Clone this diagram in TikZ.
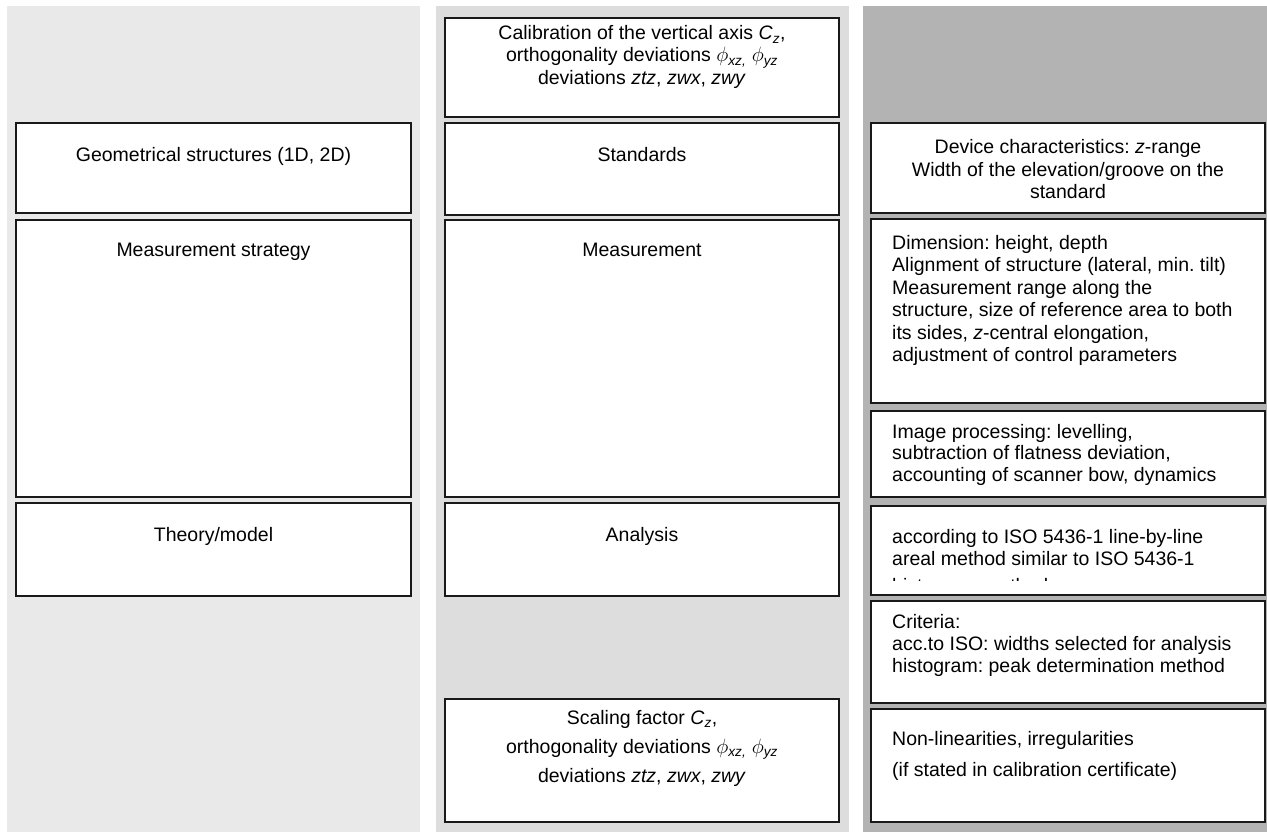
\documentclass[tikz,border=0pt]{standalone}
\usepackage{fontspec}
\setmainfont{Liberation Sans}
\frenchspacing
\definecolor{bgL}{HTML}{E9E9E9}
\definecolor{bgM}{HTML}{DDDDDD}
\definecolor{bgR}{HTML}{B3B3B3}
\newcommand{\Cz}{\textit{C}\textsubscript{\textit{z}}}
\newcommand{\phixz}{$\phi$\textsubscript{\textit{xz,}}}
\newcommand{\phiyz}{$\phi$\textsubscript{\textit{yz}}}
\tikzset{
  box/.style={draw=black!90, line width=1.5pt, fill=white, inner sep=0pt, outer sep=0pt},
  txt/.style={inner sep=0pt, anchor=base, font=\fontsize{19.5}{23}\selectfont},
  ltxt/.style={txt, anchor=base west},
}
\begin{document}
\begin{tikzpicture}[x=1pt,y=-1pt]
\useasboundingbox (0,0) rectangle (1267,832);
% column backgrounds
\fill[bgL] (7,6) rectangle (420,832);
\fill[bgM] (436,6) rectangle (849,832);
\fill[bgR] (863,6) rectangle (1267,832);
% left column
\node[box, minimum width=395pt, minimum height=90pt] (geo) at (213.5,168) {};
\node[box, minimum width=395pt, minimum height=277pt] (strat) at (213.5,358.5) {};
\node[box, minimum width=395pt, minimum height=93pt] (theo) at (213.5,549.5) {};
\node[txt] (geoT) at (213.5,161) {Geometrical structures (1D, 2D)};
\node[txt] (stratT) at (213.5,256) {Measurement strategy};
\node[txt] (theoT) at (213.5,541) {Theory/model};
% middle column
\node[box, minimum width=394pt, minimum height=99pt] (cal) at (642,67.5) {};
\node[box, minimum width=394pt, minimum height=92pt] (std) at (642,169) {};
\node[box, minimum width=394pt, minimum height=277pt] (meas) at (642,358.5) {};
\node[box, minimum width=394pt, minimum height=93pt] (anal) at (642,549.5) {};
\node[box, minimum width=394pt, minimum height=123pt] (scal) at (642,760.5) {};
\node[txt] (calA) at (642,40) {Calibration of the vertical axis \Cz,};
\node[txt] (calB) at (642,62) {orthogonality deviations \phixz{} \phiyz};
\node[txt] (calC) at (642,85) {deviations \textit{ztz}, \textit{zwx}, \textit{zwy}};
\node[txt] (stdT) at (642,161) {Standards};
\node[txt] (measT) at (642,256) {Measurement};
\node[txt] (analT) at (642,541) {Analysis};
\node[txt] (scalA) at (642,724) {Scaling factor \Cz,};
\node[txt] (scalB) at (642,753) {orthogonality deviations \phixz{} \phiyz};
\node[txt] (scalC) at (642,782) {deviations \textit{ztz}, \textit{zwx}, \textit{zwy}};
% right column
\node[box, minimum width=394pt, minimum height=90pt] (dev) at (1068,168) {};
\node[box, minimum width=394pt, minimum height=184pt] (dim) at (1068,311) {};
\node[box, minimum width=394pt, minimum height=86pt] (img) at (1068,454) {};
\node[box, minimum width=394pt, minimum height=89pt] (iso) at (1068,550.5) {};
\node[box, minimum width=394pt, minimum height=102pt] (crit) at (1068,652) {};
\node[box, minimum width=394pt, minimum height=113pt] (nonl) at (1068,765.5) {};
\node[txt] (devA) at (1068,154) {Device characteristics: \textit{z}-range};
\node[txt] (devB) at (1068,176) {Width of the elevation/groove on the};
\node[txt] (devC) at (1068,198) {standard};
\node[ltxt] (dimA) at (892,249) {Dimension: height, depth};
\node[ltxt] (dimB) at (892,271.5) {Alignment of structure (lateral, min. tilt)};
\node[ltxt] (dimC) at (892,294) {Measurement range along the};
\node[ltxt] (dimD) at (892,316.5) {structure, size of reference area to both};
\node[ltxt] (dimE) at (892,339) {its sides, \textit{z}-central elongation,};
\node[ltxt] (dimF) at (892,361.5) {adjustment of control parameters};
\node[ltxt] (imgA) at (892,438) {Image processing: levelling,};
\node[ltxt] (imgB) at (892,459.5) {subtraction of flatness deviation,};
\node[ltxt] (imgC) at (892,481) {accounting of scanner bow, dynamics};
\node[ltxt] (isoA) at (892,543) {according to ISO 5436-1 line-by-line};
\node[ltxt] (isoB) at (892,565) {areal method similar to ISO 5436-1};
\begin{scope}
\clip (872,507) rectangle (1264,580);
\node[ltxt] (isoC) at (892,592) {histogram method};
\end{scope}
\node[ltxt] (critA) at (892,628) {Criteria:};
\node[ltxt] (critB) at (892,650) {acc.to ISO: widths selected for analysis};
\node[ltxt] (critC) at (892,672) {histogram: peak determination method};
\node[ltxt] (nonlA) at (892,745) {Non-linearities, irregularities};
\node[ltxt] (nonlB) at (892,776) {(if stated in calibration certificate)};
\end{tikzpicture}
\end{document}
